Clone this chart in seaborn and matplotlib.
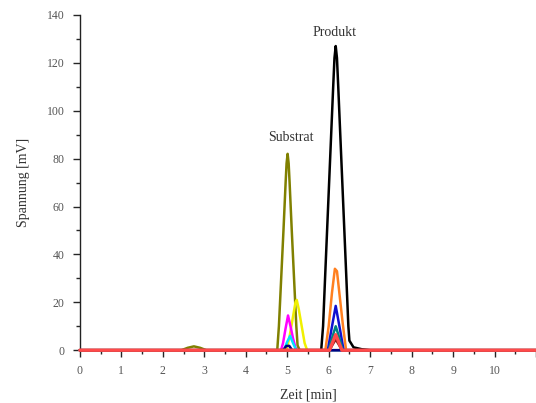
import matplotlib
matplotlib.use("Agg")
import matplotlib.pyplot as plt
import seaborn as sns
from matplotlib.ticker import MultipleLocator

# chromatogram traces (time in min, voltage in mV)
olive_x = [0, 2.45, 2.6, 2.75, 2.9, 3.05, 4.76, 4.8, 4.855, 4.91, 4.962, 4.985, 5.01,
           5.035, 5.058, 5.11, 5.165, 5.22, 5.25, 5.3, 11]
olive_y = [0, 0, 1.0, 1.6, 1.0, 0, 0, 10, 30, 50, 70, 78, 82,
           78, 70, 50, 30, 10, 2, 0, 0]

yellow_x = [0, 4.98, 5.05, 5.12, 5.2, 5.23, 5.28, 5.35, 5.42, 5.48, 11]
yellow_y = [0, 0, 5, 12, 20, 21, 17, 10, 3, 0, 0]

magenta_x = [0, 4.85, 4.9, 4.96, 5.02, 5.08, 5.14, 5.2, 5.24, 11]
magenta_y = [0, 0, 3, 9, 14.5, 10, 5, 1, 0, 0]

cyan_x = [0, 4.92, 5.0, 5.07, 5.14, 5.22, 11]
cyan_y = [0, 0, 3.5, 6, 3, 0, 0]

navy_x = [0, 4.9, 4.98, 5.05, 5.12, 11]
navy_y = [0, 0, 1.8, 1.8, 0, 0]

black_x = [0, 5.82, 5.865, 5.913, 5.962, 6.011, 6.06, 6.109, 6.14, 6.17,
           6.2, 6.231, 6.28, 6.329, 6.378, 6.427, 6.475, 6.5, 6.6, 6.8, 7.0, 11]
black_y = [0, 0, 10, 30, 50, 70, 90, 110, 122, 127,
           122, 110, 90, 70, 50, 30, 10, 4, 1.2, 0.4, 0, 0]

orange_x = [0, 5.92, 6.0, 6.08, 6.15, 6.2, 6.27, 6.34, 6.42, 11]
orange_y = [0, 0, 10, 24, 34, 33, 22, 11, 0, 0]

blue_x = [0, 5.98, 6.06, 6.17, 6.28, 6.36, 11]
blue_y = [0, 0, 8, 18.5, 8, 0, 0]

teal_x = [0, 6.0, 6.08, 6.17, 6.26, 6.34, 11]
teal_y = [0, 0, 5, 10, 5, 0, 0]

darkred_x = [0, 6.02, 6.1, 6.17, 6.24, 6.32, 11]
darkred_y = [0, 0, 2.5, 4.5, 2.5, 0, 0]

red_x = [0, 6.02, 6.1, 6.17, 6.24, 6.32, 11]
red_y = [0, 0, 3.5, 6.5, 3.5, 0, 0]

traces = [
    (olive_x, olive_y, "#808000", 1.8),
    (yellow_x, yellow_y, "#f0f000", 1.8),
    (magenta_x, magenta_y, "#ff00ff", 1.8),
    (cyan_x, cyan_y, "#00e0ff", 1.8),
    (navy_x, navy_y, "#000080", 1.8),
    (black_x, black_y, "#000000", 1.8),
    (orange_x, orange_y, "#ff8020", 1.8),
    (blue_x, blue_y, "#1010d0", 1.8),
    (teal_x, teal_y, "#008080", 1.8),
    (darkred_x, darkred_y, "#8b1a1a", 1.8),
    (red_x, red_y, "#ff4a4a", 2.4),
]

sns.set_style("ticks")
plt.rcParams['font.family'] = ['Liberation Serif', 'DejaVu Serif']

fig = plt.figure(figsize=(5.36, 4.03), dpi=100)
ax = fig.add_axes([0.149, 0.131, 0.851, 0.832])

for i, (xs, ys, col, lw) in enumerate(traces):
    sns.lineplot(x=xs, y=ys, color=col, linewidth=lw, sort=False,
                 estimator=None, ax=ax)
    line = ax.lines[-1]
    line.set_zorder(3 + i * 0.01)
    line.set_clip_on(False)

ax.text(5.1, 86, "Substrat", ha="center", va="bottom", fontsize=10, color="#333333")
ax.text(6.15, 130, "Produkt", ha="center", va="bottom", fontsize=10, color="#333333")

ax.set_xlim(0, 11)
ax.set_ylim(0, 140)
ax.set_xticks(range(12))
ax.set_xticklabels([str(i) for i in range(11)] + [""])
ax.xaxis.set_minor_locator(MultipleLocator(0.5))
ax.yaxis.set_major_locator(MultipleLocator(20))
ax.yaxis.set_minor_locator(MultipleLocator(10))
ax.tick_params(which="major", direction="out", length=5, width=1, labelsize=8.5,
               labelcolor="#555555", pad=6)
ax.tick_params(which="minor", direction="out", length=3, width=1)

ax.set_xlabel("Zeit [min]", fontsize=10, color="#333333", labelpad=8)
ax.set_ylabel("Spannung [mV]", fontsize=10, color="#333333", labelpad=12)
sns.despine(ax=ax)
for sp in ["left", "bottom"]:
    ax.spines[sp].set_linewidth(1.0)
    ax.spines[sp].set_color("#222222")

fig.savefig("out.png", dpi=100)
